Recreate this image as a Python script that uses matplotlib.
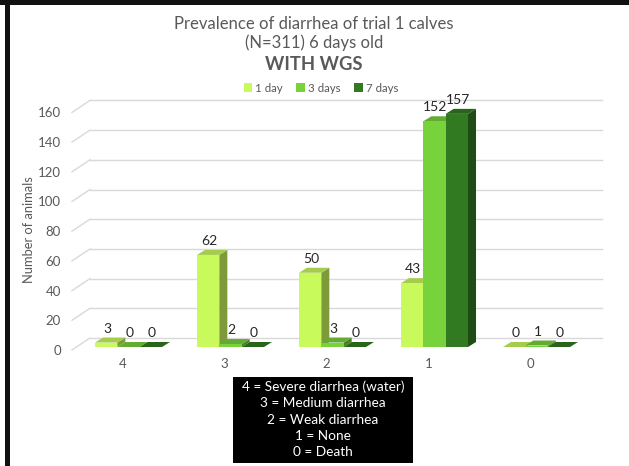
import matplotlib
matplotlib.use("Agg")
import matplotlib.pyplot as plt
from matplotlib.patches import Polygon, Rectangle, Patch
from matplotlib.transforms import ScaledTranslation
import matplotlib.colors as mcolors
import numpy as np

plt.rcParams['font.family'] = ['Lato', 'DejaVu Sans']

# ---- data ----
categories = ["4", "3", "2", "1", "0"]
series_names = ["1 day", "3 days", "7 days"]
day1 = [3, 62, 50, 43, 0]
day3 = [0, 2, 3, 152, 1]
day7 = [0, 0, 0, 157, 0]
yticks = [0, 20, 40, 60, 80, 100, 120, 140, 160]
title_lines = ["Prevalence of diarrhea of trial 1 calves", "(N=311) 6 days old"]
subtitle = "WITH WGS"
ylabel = "Number of animals"
key_lines = ["4 = Severe diarrhea (water)", "3 = Medium diarrhea",
             "2 = Weak diarrhea", "1 = None", "0 = Death"]

front_colors = ["#C9FA5C", "#78D23C", "#327A21"]

W, H = 629, 466
fig = plt.figure(figsize=(W / 100, H / 100), dpi=100)
fig.patch.set_facecolor("white")

# axes placement (pixels)
ax_l, ax_r, ax_b, ax_t = 77.5, 587.5, 347, 109.4
ax = fig.add_axes([ax_l / W, (H - ax_b) / H, (ax_r - ax_l) / W, (ax_b - ax_t) / H])
ax.set_xlim(-0.5, 4.5)
ax.set_ylim(0, 160)
for s in ax.spines.values():
    s.set_visible(False)
ax.patch.set_alpha(0)

ux = 5.0 / (ax_r - ax_l)      # data units per px (x)
uy = 160.0 / (ax_b - ax_t)    # data units per px (y)

# back wall gridlines with perspective diagonals
grid_c = "#D9D9D9"
for v in yticks:
    ax.plot([-0.5 + 12.5 * ux, 4.5 + 14.5 * ux], [v + 9 * uy, v + 9 * uy],
            color=grid_c, lw=1.0, clip_on=False, zorder=0)
    ax.plot([-0.5 - 5.5 * ux, -0.5 + 12.5 * ux], [v - 3 * uy, v + 9 * uy],
            color=grid_c, lw=1.0, clip_on=False, zorder=0)

# bars with 3D faces
series = [day1, day3, day7]
bw = 0.219
ddx, ddy = 8 * ux, 5 * uy

def shade(c, f):
    r, g, b = mcolors.to_rgb(c)
    return (r * f, g * f, b * f)

z = 2
for i in range(len(categories)):
    for j, vals in enumerate(series):
        h = vals[i]
        x0 = i + (j - 1) * bw - bw / 2
        x1 = x0 + bw
        fc = front_colors[j]
        side = Polygon([(x1, 0), (x1 + ddx, ddy), (x1 + ddx, h + ddy), (x1, h)],
                       closed=True, facecolor=shade(fc, 0.62), edgecolor="none",
                       zorder=z, clip_on=False)
        top = Polygon([(x0, h), (x1, h), (x1 + ddx, h + ddy), (x0 + ddx, h + ddy)],
                      closed=True, facecolor=shade(fc, 0.82), edgecolor="none",
                      zorder=z, clip_on=False)
        ax.add_patch(side)
        ax.add_patch(top)
        if h > 0:
            ax.add_patch(Rectangle((x0, 0), bw, h, facecolor=fc, edgecolor="none",
                                   zorder=z, clip_on=False))
        ax.annotate(str(h), (x0 + bw / 2 + 1 * ux, h), xytext=(0, 10),
                    textcoords="offset points", ha="center", va="center",
                    fontsize=10, color="#262626", zorder=10, annotation_clip=False)
        z += 1

# ticks
ax.set_xticks(range(len(categories)))
ax.set_xticklabels(categories)
ax.set_yticks(yticks)
ax.tick_params(axis="both", length=0, labelsize=9.5, labelcolor="#595959")
ax.tick_params(axis="x", pad=8)
ax.tick_params(axis="y", pad=12)
for lab in ax.get_xticklabels():
    lab.set_transform(lab.get_transform() + ScaledTranslation(-6 / 100, 0, fig.dpi_scale_trans))
for lab in ax.get_yticklabels():
    lab.set_transform(lab.get_transform() + ScaledTranslation(0, -3 / 100, fig.dpi_scale_trans))

fig.text(29 / W, 1 - 230 / H, ylabel, rotation=90, ha="center", va="center",
         fontsize=9.3, color="#595959")

# titles
fig.text(314 / W, 1 - 24 / H, title_lines[0], ha="center", va="center",
         fontsize=12, color="#595959")
fig.text(314 / W, 1 - 43 / H, title_lines[1], ha="center", va="center",
         fontsize=12, color="#595959")
fig.text(314 / W, 1 - 64 / H, subtitle, ha="center", va="center",
         fontsize=13.2, fontweight="bold", color="#595959")

# legend
handles = [Patch(facecolor=c, edgecolor="none") for c in front_colors]
fig.legend(handles, series_names, loc="center", bbox_to_anchor=(321 / W, 1 - 88 / H),
           ncol=3, frameon=False, fontsize=8.3, handlelength=0.7, handleheight=0.7,
           handletextpad=0.3, columnspacing=1.2, labelcolor="#595959")

# key box
box_l, box_r, box_t, box_b = 233, 413, 377, 463
fig.patches.append(Rectangle((box_l / W, 1 - box_b / H), (box_r - box_l) / W,
                             (box_b - box_t) / H, transform=fig.transFigure,
                             facecolor="black", edgecolor="none", zorder=1))
for k, line in enumerate(key_lines):
    fig.text(323 / W, 1 - (387 + 16.3 * k) / H, line, ha="center", va="center",
             fontsize=9.8, color="white", zorder=2)

# frame borders (black)
fig.patches.append(Rectangle((0, 1 - 5 / H), 1, 5 / H, transform=fig.transFigure,
                             facecolor="#111111", edgecolor="none", zorder=5))
fig.patches.append(Rectangle((5 / W, 0), 5 / W, 1, transform=fig.transFigure,
                             facecolor="#111111", edgecolor="none", zorder=5))

fig.savefig("out.png", dpi=100)
